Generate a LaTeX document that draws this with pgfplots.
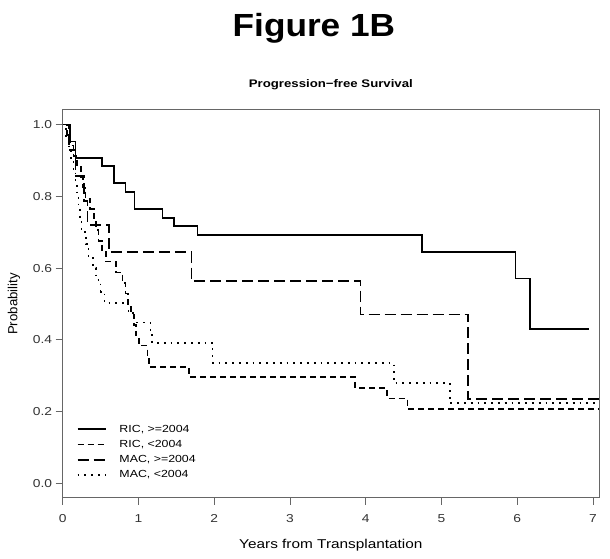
\documentclass[border=0pt]{standalone}
\usepackage{fontspec}
\setmainfont{Liberation Sans}[FakeStretch=1.2]
\newfontfamily\figfont{Liberation Sans}[FakeStretch=1.1]
\newfontfamily\plainfont{Liberation Sans}
\usepackage{pgfplots}
\pgfplotsset{compat=1.18}
\begin{document}
\begin{tikzpicture}
\path[use as bounding box] (0,0) rectangle (610pt,559pt);
\node[anchor=base, inner sep=0pt] at (313.9pt,522.3pt) {\figfont\fontsize{32}{34}\selectfont\bfseries Figure 1B};
\begin{axis}[
  at={(62.7pt,61pt)}, anchor=south west,
  scale only axis, width=536.3pt, height=388pt,
  xmin=0, xmax=7.08, ymin=-0.04, ymax=1.04,
  axis line style={black!60, line width=1pt},
  xtick={0,1,2,3,4,5,6,7},
  ytick={0,0.2,0.4,0.6,0.8,1.0},
  tick pos=left, tick align=outside,
  major tick length=7pt,
  tick style={black!60, line width=0.9pt},
  /pgf/number format/assume math mode=true,
  ticklabel style={font=\fontsize{11.5}{13}\selectfont, text=black!80},
  yticklabel style={/pgf/number format/.cd, fixed, fixed zerofill, precision=1},
  xticklabel style={yshift=-6pt},
  xlabel={Years from Transplantation},
  xlabel style={at={(axis description cs:0.5,-0.1289)}, anchor=base, font=\fontsize{12.8}{14}\selectfont},
  ylabel={Probability},
  ylabel style={at={(axis description cs:-0.0908,0.5)}, anchor=center, font=\plainfont\fontsize{13.2}{15}\selectfont},
  title={Progression−free Survival},
  title style={at={(axis description cs:0.5,1.0585)}, anchor=base, yshift=-6pt, font=\fontsize{11}{13}\selectfont\bfseries},
  legend cell align=left,
  legend image code/.code={\draw[#1] (0pt,0pt) -- (28pt,0pt);},
  legend style={draw=none, fill=none, at={(axis description cs:0.0261,0.189)}, anchor=north west,
    inner sep=0pt, row sep=6.6pt, column sep=0pt,
    nodes={inner sep=0pt, font=\fontsize{10.3}{12}\selectfont},
    /tikz/every odd column/.style={column sep=13pt}},
]
\addplot[const plot, black, line width=1.6pt] coordinates {
(0,1) (0.10,0.952) (0.17,0.907) (0.52,0.884) (0.68,0.836) (0.83,0.811) (0.95,0.765)
(1.32,0.740) (1.47,0.717) (1.78,0.692) (4.74,0.644) (5.98,0.571) (6.17,0.431) (6.95,0.431)};
\addlegendentry{RIC, >=2004}
\addplot[const plot, black, line width=1.6pt, dash pattern=on 6pt off 4pt] coordinates {
(0,1) (0.06,0.971) (0.10,0.941) (0.14,0.912) (0.19,0.882) (0.24,0.853) (0.27,0.824)
(0.30,0.794) (0.36,0.765) (0.41,0.735) (0.44,0.706) (0.47,0.676) (0.52,0.647) (0.57,0.618)
(0.70,0.588) (0.79,0.559) (0.83,0.529) (0.86,0.500) (0.90,0.471) (0.94,0.441) (0.97,0.412)
(1.01,0.384) (1.12,0.355) (1.14,0.325) (1.67,0.297) (3.86,0.266) (4.28,0.237) (4.55,0.208) (7.08,0.208)};
\addlegendentry{RIC, <2004}
\addplot[const plot, black, line width=1.6pt, dash pattern=on 11pt off 5pt] coordinates {
(0,1) (0.08,0.929) (0.17,0.857) (0.28,0.786) (0.33,0.720) (0.61,0.644) (1.70,0.564)
(3.93,0.471) (5.35,0.236) (7.08,0.236)};
\addlegendentry{MAC, >=2004}
\addplot[const plot, black, line width=1.6pt, dash pattern=on 1.8pt off 5pt] coordinates {
(0,1) (0.04,0.967) (0.08,0.933) (0.11,0.900) (0.14,0.867) (0.17,0.833) (0.19,0.800)
(0.21,0.767) (0.23,0.733) (0.25,0.700) (0.31,0.667) (0.34,0.633) (0.40,0.600) (0.44,0.567)
(0.50,0.533) (0.55,0.503) (0.87,0.475) (0.95,0.448) (1.16,0.420) (1.18,0.392) (1.98,0.336)
(4.37,0.280) (5.11,0.224) (7.08,0.224)};
\addlegendentry{MAC, <2004}
\end{axis}
\end{tikzpicture}
\end{document}
